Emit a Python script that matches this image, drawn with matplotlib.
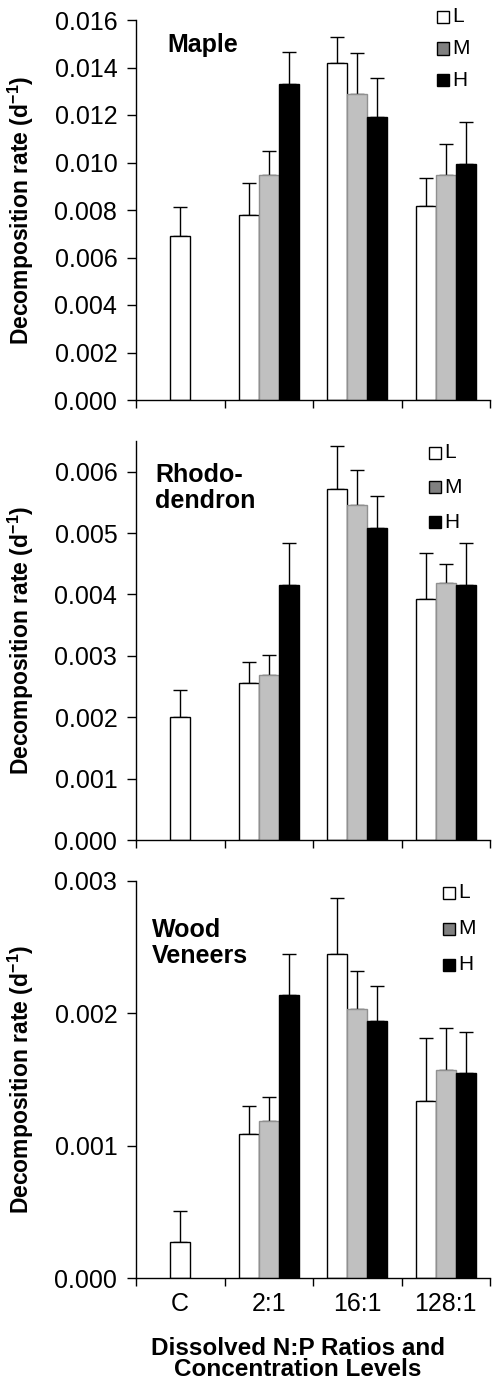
import numpy as np
import matplotlib
matplotlib.use("Agg")
from matplotlib import pyplot as plt
from matplotlib.patches import Rectangle

plt.rcParams['font.family'] = ['Liberation Sans', 'DejaVu Sans']
plt.rcParams['mathtext.fontset'] = 'custom'
plt.rcParams['mathtext.rm'] = 'Liberation Sans'
plt.rcParams['mathtext.bf'] = 'Liberation Sans:bold'

# data
categories = ["C", "2:1", "16:1", "128:1"]
levels = ["L", "M", "H"]

maple_c = 0.00690
maple_c_err = 0.00121
maple_L = [0.00778, 0.01420, 0.00818]
maple_M = [0.00949, 0.01288, 0.00949]
maple_H = [0.01331, 0.01193, 0.00995]
maple_L_err = [0.00137, 0.00107, 0.00115]
maple_M_err = [0.00101, 0.00172, 0.00129]
maple_H_err = [0.00134, 0.00164, 0.00177]

rhodo_c = 0.00201
rhodo_c_err = 0.00044
rhodo_L = [0.00256, 0.00571, 0.00392]
rhodo_M = [0.00268, 0.00545, 0.00418]
rhodo_H = [0.00416, 0.00508, 0.00416]
rhodo_L_err = [0.00034, 0.00071, 0.00076]
rhodo_M_err = [0.00034, 0.00058, 0.00032]
rhodo_H_err = [0.00068, 0.00052, 0.00068]

wood_c = 0.00027
wood_c_err = 0.00024
wood_L = [0.00109, 0.00245, 0.00134]
wood_M = [0.00119, 0.00203, 0.00157]
wood_H = [0.00214, 0.00194, 0.00155]
wood_L_err = [0.00021, 0.00042, 0.00047]
wood_M_err = [0.00018, 0.00029, 0.00032]
wood_H_err = [0.00031, 0.00027, 0.00031]

panels = [
    ("Maple", maple_c, maple_c_err, [maple_L, maple_M, maple_H],
     [maple_L_err, maple_M_err, maple_H_err], 0.016, np.arange(0, 0.0161, 0.002)),
    ("Rhodo-\ndendron", rhodo_c, rhodo_c_err, [rhodo_L, rhodo_M, rhodo_H],
     [rhodo_L_err, rhodo_M_err, rhodo_H_err], 0.0065, np.arange(0, 0.0061, 0.001)),
    ("Wood\nVeneers", wood_c, wood_c_err, [wood_L, wood_M, wood_H],
     [wood_L_err, wood_M_err, wood_H_err], 0.003, np.arange(0, 0.0031, 0.001)),
]

bar_colors = ["white", "#c0c0c0", "black"]
bar_edges = ["black", "#909090", "black"]
legend_colors = ["white", "#808080", "black"]

W, H = 492, 1385
fig = plt.figure(figsize=(W / 100, H / 100), dpi=100)

# axes boxes in pixels: (top, bottom)
boxes = [(20, 400), (441, 840), (881, 1278)]
title_pos = [(0.088, 0.934), (0.054, 0.882), (0.045, 0.843)]
# legend: square left x, first row center y, row step (pixels)
legend_pos = [(437, 17, 31.5), (429, 453, 34.5), (443, 893, 36)]

width = 0.225
x = np.arange(1, 4)

for i, (name, cval, cerr, series, errs, ymax, yt) in enumerate(panels):
    top, bot = boxes[i]
    ax = fig.add_axes([136 / W, 1 - bot / H, 354 / W, (bot - top) / H])

    ax.bar(0, cval, width, color=bar_colors[0], edgecolor="black", linewidth=1, zorder=2)
    ax.errorbar(0, cval, yerr=[[0], [cerr]], fmt="none", ecolor="black",
                elinewidth=1, capsize=5, capthick=1, zorder=1)
    for j in range(3):
        xs = x + (j - 1) * width
        ax.bar(xs, series[j], width, color=bar_colors[j], edgecolor=bar_edges[j],
               linewidth=1, zorder=2)
        ax.errorbar(xs, series[j], yerr=[np.zeros(3), errs[j]], fmt="none",
                    ecolor="black", elinewidth=1, capsize=5, capthick=1, zorder=1)

    ax.set_xlim(-0.5, 3.5)
    ax.set_ylim(0, ymax)
    ax.set_yticks(yt)
    ax.set_yticklabels(["%.3f" % v for v in yt])
    ax.set_xticks(range(4))
    ax.set_xticks(np.arange(-0.5, 3.6, 1), minor=True)
    ax.tick_params(axis="x", which="major", length=0, labelsize=18, pad=10)
    ax.tick_params(axis="x", which="minor", length=6, width=1, direction="out")
    ax.tick_params(axis="y", length=6.5, width=1, direction="out", labelsize=18, pad=7)
    if i == 2:
        ax.set_xticklabels(categories)
        ax.set_xlabel("Dissolved N:P Ratios and\nConcentration Levels",
                      fontsize=17.5, fontweight="bold", linespacing=0.9)
        ax.xaxis.set_label_coords(0.458, -0.148)
    else:
        ax.set_xticklabels([])
    for s in ["top", "right"]:
        ax.spines[s].set_visible(False)
    ax.spines["left"].set_linewidth(1)
    ax.spines["bottom"].set_linewidth(1)

    ax.set_ylabel(r"Decomposition rate (d$^{\mathbf{-1}}$)", fontsize=16.5, fontweight="bold")
    ax.yaxis.set_label_coords(-0.282, 0.5)

    ax.text(title_pos[i][0], title_pos[i][1], name, transform=ax.transAxes,
            fontsize=18, fontweight="bold", va="center", ha="left", linespacing=1.1)

    lx, ly, dy = legend_pos[i]
    for j, lab in enumerate(levels):
        cy = ly + j * dy
        fig.patches.append(Rectangle((lx / W, 1 - (cy + 6) / H), 12 / W, 12 / H,
                                     transform=fig.transFigure, facecolor=legend_colors[j],
                                     edgecolor="black", linewidth=1))
        fig.text((lx + 15) / W, 1 - cy / H, lab, fontsize=15, va="center", ha="left")

fig.savefig("out.png", dpi=100)
